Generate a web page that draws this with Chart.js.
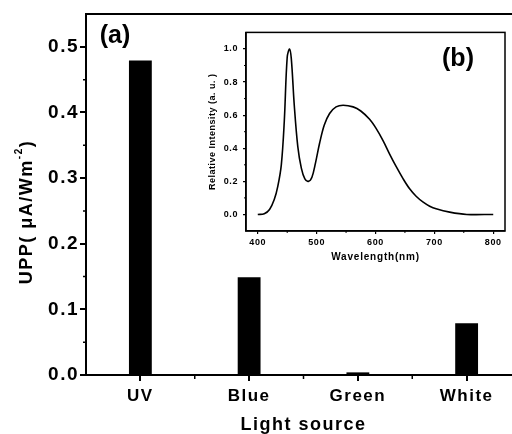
<!DOCTYPE html>
<html>
<head>
<meta charset="utf-8">
<script src="https://cdn.jsdelivr.net/npm/chart.js"></script>
<style>
  html, body { margin: 0; padding: 0; background: #fff; overflow: hidden; width: 512px; height: 434px; }
  #main { position: absolute; left: 0; top: 0; width: 530px; height: 434px; }
  #inset { position: absolute; left: 195px; top: 22px; width: 317px; height: 245px; }
</style>
</head>
<body>
<div id="main"><canvas id="barChart"></canvas></div>
<div id="inset"><canvas id="specChart"></canvas></div>
<script>
// (a) photoresponse per light source
const categories = ['UV', 'Blue', 'Green', 'White'];
const uppValues = [0.479, 0.149, 0.004, 0.079];
const yTicks = [0, 0.1, 0.2, 0.3, 0.4, 0.5];
const yMinor = [0.05, 0.15, 0.25, 0.35, 0.45];

// (b) white LED spectrum
const wavelengths = [400, 411, 420, 428, 434, 440, 445, 450, 454, 457, 462, 468, 474, 480, 486, 492, 498, 505, 513, 522, 533, 545, 562, 575, 590, 601, 613, 624, 635, 647, 658, 669, 681, 692, 703, 726, 755, 800];
const intensity =   [0, 0.004, 0.03, 0.09, 0.17, 0.30, 0.56, 0.95, 1.0, 0.94, 0.66, 0.41, 0.28, 0.215, 0.20, 0.225, 0.31, 0.43, 0.54, 0.61, 0.65, 0.66, 0.65, 0.625, 0.575, 0.52, 0.445, 0.365, 0.29, 0.215, 0.155, 0.11, 0.074, 0.05, 0.034, 0.014, 0, 0];
const xTicksB = [400, 500, 600, 700, 800];
const xMinorB = [450, 550, 650, 750];
const yTicksB = [0, 0.2, 0.4, 0.6, 0.8, 1.0];
const yMinorB = [0.1, 0.3, 0.5, 0.7, 0.9];

const FONT = 'Liberation Sans';

const mainDecor = {
  id: 'mainDecor',
  beforeDraw(chart) { chart.ctx.letterSpacing = '1.5px'; },
  afterDraw(chart) {
    const { ctx, chartArea: a, scales: { x, y } } = chart;
    ctx.save();
    ctx.strokeStyle = '#000';
    ctx.lineWidth = 2;
    ctx.strokeRect(a.left, a.top, a.right - a.left, a.bottom - a.top);

    // minor ticks
    ctx.lineWidth = 1.5;
    ctx.beginPath();
    yMinor.forEach(v => {
      const py = y.getPixelForValue(v);
      ctx.moveTo(a.left - 3, py); ctx.lineTo(a.left, py);
    });
    for (let i = 1; i < categories.length; i++) {
      const px = (x.getPixelForValue(i - 1) + x.getPixelForValue(i)) / 2;
      ctx.moveTo(px, a.bottom); ctx.lineTo(px, a.bottom + 4);
    }
    ctx.stroke();

    ctx.fillStyle = '#000';
    ctx.textAlign = 'center';
    ctx.textBaseline = 'middle';
    ctx.letterSpacing = '0px';
    ctx.font = 'bold 25px "' + FONT + '"';
    ctx.fillText('(a)', 115, 36);

    ctx.letterSpacing = '1.5px';
    ctx.font = 'bold 18px "' + FONT + '"';
    ctx.fillText('Light source', (a.left + a.right) / 2, 425);

    // y title with superscript
    ctx.translate(27, 212);
    ctx.rotate(-Math.PI / 2);
    const main1 = 'UPP( \u03bcA/Wm', sup = '-2', main2 = ')';
    ctx.font = 'bold 18px "' + FONT + '"';
    const w1 = ctx.measureText(main1).width, w3 = ctx.measureText(main2).width;
    ctx.font = 'bold 10px "' + FONT + '"';
    const w2 = ctx.measureText(sup).width;
    let sx = -(w1 + w2 + w3) / 2;
    ctx.textAlign = 'left';
    ctx.font = 'bold 18px "' + FONT + '"';
    ctx.fillText(main1, sx, 0);
    ctx.font = 'bold 10px "' + FONT + '"';
    ctx.fillText(sup, sx + w1, -8);
    ctx.font = 'bold 18px "' + FONT + '"';
    ctx.fillText(main2, sx + w1 + w2, 0);
    ctx.restore();
  }
};

new Chart(document.getElementById('barChart'), {
  type: 'bar',
  data: {
    labels: categories,
    datasets: [{
      data: uppValues,
      backgroundColor: '#000',
      borderWidth: 0,
      barPercentage: 0.21,
      categoryPercentage: 1
    }]
  },
  options: {
    responsive: true,
    maintainAspectRatio: false,
    animation: false,
    events: [],
    layout: { padding: { top: 14, right: 9, left: 0, bottom: 0 } },
    plugins: { legend: { display: false }, tooltip: { enabled: false } },
    scales: {
      x: {
        offset: true,
        grid: { display: true, offset: false, drawOnChartArea: false, drawTicks: true, tickLength: 6, color: '#000', lineWidth: 2 },
        border: { display: true, color: '#000', width: 2 },
        ticks: { color: '#000', padding: 5, font: { family: FONT, size: 17, weight: 'bold' }, maxRotation: 0 },
        afterFit: s => { s.height = 59; }
      },
      y: {
        min: 0,
        max: 0.55,
        afterBuildTicks: s => { s.ticks = yTicks.map(v => ({ value: v })); },
        grid: { display: true, drawOnChartArea: false, drawTicks: true, tickLength: 6, color: '#000', lineWidth: 2 },
        border: { display: true, color: '#000', width: 2 },
        ticks: { color: '#000', padding: 1, font: { family: FONT, size: 19, weight: 'bold' }, callback: v => v.toFixed(1) },
        afterFit: s => { s.width = 86; }
      }
    }
  },
  plugins: [mainDecor]
});

const insetDecor = {
  id: 'insetDecor',
  beforeDraw(chart) {
    const { ctx, width, height } = chart;
    ctx.save();
    ctx.fillStyle = '#fff';
    ctx.fillRect(0, 0, width, height);
    ctx.restore();
    ctx.letterSpacing = '0.6px';
  },
  afterDraw(chart) {
    const { ctx, chartArea: a, scales: { x, y } } = chart;
    ctx.save();
    ctx.strokeStyle = '#000';
    ctx.lineWidth = 1.5;
    ctx.strokeRect(a.left, a.top, a.right - a.left, a.bottom - a.top);
    ctx.lineWidth = 1;
    ctx.beginPath();
    yMinorB.forEach(v => {
      const py = y.getPixelForValue(v);
      ctx.moveTo(a.left - 2, py); ctx.lineTo(a.left, py);
    });
    xMinorB.forEach(v => {
      const px = x.getPixelForValue(v);
      ctx.moveTo(px, a.bottom); ctx.lineTo(px, a.bottom + 2);
    });
    ctx.stroke();

    ctx.fillStyle = '#000';
    ctx.textAlign = 'center';
    ctx.textBaseline = 'middle';
    ctx.letterSpacing = '0px';
    ctx.font = 'bold 25px "' + FONT + '"';
    ctx.fillText('(b)', 458 - 195, 59 - 22);

    ctx.letterSpacing = '0.8px';
    ctx.font = 'bold 10px "' + FONT + '"';
    ctx.fillText('Wavelength(nm)', (a.left + a.right) / 2, 235);

    ctx.letterSpacing = '0.5px';
    ctx.font = 'bold 9px "' + FONT + '"';
    ctx.translate(18, (a.top + a.bottom) / 2);
    ctx.rotate(-Math.PI / 2);
    ctx.fillText('Relative Intensity (a. u. )', 0, 0);
    ctx.restore();
  }
};

new Chart(document.getElementById('specChart'), {
  type: 'line',
  data: {
    datasets: [{
      data: wavelengths.map((w, i) => ({ x: w, y: intensity[i] })),
      borderColor: '#000',
      borderWidth: 1.6,
      pointRadius: 0,
      fill: false,
      tension: 0.35
    }]
  },
  options: {
    responsive: true,
    maintainAspectRatio: false,
    animation: false,
    events: [],
    layout: { padding: { top: 7, right: 7, left: 0, bottom: 0 } },
    plugins: { legend: { display: false }, tooltip: { enabled: false } },
    scales: {
      x: {
        type: 'linear',
        min: 380,
        max: 820,
        afterBuildTicks: s => { s.ticks = xTicksB.map(v => ({ value: v })); },
        grid: { display: true, drawOnChartArea: false, drawTicks: true, tickLength: 3, color: '#000', lineWidth: 1.2 },
        border: { display: true, color: '#000', width: 1.5 },
        ticks: { color: '#000', padding: 3, font: { family: FONT, size: 9, weight: 'bold' }, maxRotation: 0, callback: v => String(v) },
        afterFit: s => { s.height = 36; }
      },
      y: {
        min: -0.1,
        max: 1.1,
        afterBuildTicks: s => { s.ticks = yTicksB.map(v => ({ value: v })); },
        grid: { display: true, drawOnChartArea: false, drawTicks: true, tickLength: 3, color: '#000', lineWidth: 1.2 },
        border: { display: true, color: '#000', width: 1.5 },
        ticks: { color: '#000', padding: 5, font: { family: FONT, size: 9, weight: 'bold' }, callback: v => v.toFixed(1) },
        afterFit: s => { s.width = 51; }
      }
    }
  },
  plugins: [insetDecor]
});
</script>
</body>
</html>
